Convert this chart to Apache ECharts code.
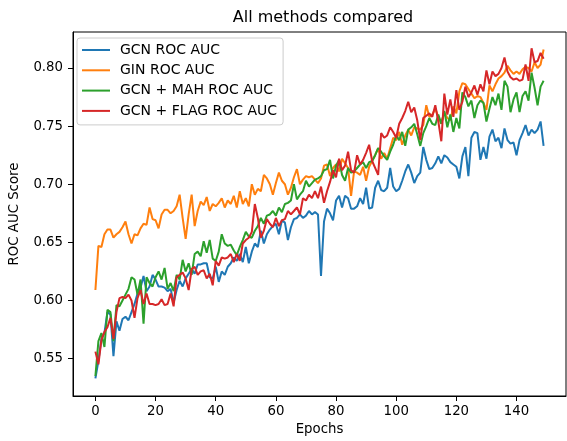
<!DOCTYPE html>
<html>
<head>
<meta charset="utf-8">
<script src="https://cdn.jsdelivr.net/npm/echarts@6/dist/echarts.min.js"></script>
<style>
html,body{margin:0;padding:0;background:#fff;}
#chart{width:567px;height:441px;}
</style>
</head>
<body>
<div id="chart"></div>
<script>
const seriesNames = ["GCN ROC AUC", "GIN ROC AUC", "GCN + MAH ROC AUC", "GCN + FLAG ROC AUC"];
const xTicks = [0, 20, 40, 60, 80, 100, 120, 140];
const yTicks = [0.55, 0.60, 0.65, 0.70, 0.75, 0.80];

const gcn = [
0.533,0.548,0.567,0.572,0.590,0.588,0.552,0.582,0.574,0.584,
0.586,0.583,0.590,0.597,0.606,0.611,0.621,0.608,0.612,0.622,
0.618,0.612,0.612,0.611,0.608,0.610,0.598,0.609,0.617,0.612,
0.619,0.623,0.627,0.623,0.631,0.631,0.632,0.632,0.620,0.619,
0.629,0.616,0.625,0.622,0.629,0.632,0.637,0.634,0.640,0.633,
0.646,0.632,0.642,0.649,0.646,0.660,0.649,0.657,0.661,0.664,
0.666,0.657,0.669,0.667,0.652,0.663,0.670,0.671,0.674,0.671,
0.673,0.677,0.674,0.676,0.674,0.621,0.668,0.679,0.675,0.669,
0.686,0.690,0.680,0.690,0.688,0.679,0.679,0.681,0.688,0.683,
0.697,0.679,0.680,0.697,0.703,0.695,0.694,0.697,0.714,0.698,
0.694,0.696,0.703,0.711,0.717,0.710,0.701,0.707,0.710,0.732,
0.721,0.713,0.714,0.718,0.724,0.718,0.725,0.723,0.719,0.717,
0.715,0.705,0.724,0.732,0.707,0.740,0.745,0.744,0.721,0.732,
0.722,0.741,0.747,0.737,0.740,0.731,0.748,0.738,0.735,0.736,
0.725,0.738,0.744,0.751,0.742,0.747,0.744,0.747,0.754,0.733
];
const gin = [
0.609,0.647,0.646,0.657,0.661,0.661,0.654,0.657,0.659,0.663,
0.668,0.657,0.649,0.657,0.656,0.662,0.666,0.665,0.680,0.670,
0.669,0.662,0.674,0.678,0.678,0.675,0.677,0.681,0.691,0.671,
0.653,0.674,0.691,0.664,0.677,0.685,0.682,0.689,0.677,0.683,
0.681,0.684,0.688,0.680,0.686,0.683,0.690,0.680,0.694,0.683,
0.688,0.681,0.700,0.691,0.696,0.694,0.708,0.705,0.700,0.691,
0.701,0.710,0.703,0.700,0.691,0.697,0.706,0.713,0.700,0.704,
0.707,0.706,0.707,0.704,0.701,0.705,0.716,0.717,0.707,0.714,
0.717,0.711,0.722,0.718,0.714,0.690,0.711,0.710,0.708,0.715,
0.703,0.715,0.720,0.725,0.731,0.722,0.727,0.722,0.731,0.740,
0.738,0.745,0.734,0.742,0.747,0.742,0.749,0.748,0.747,0.751,
0.768,0.758,0.760,0.765,0.758,0.752,0.762,0.757,0.755,0.767,
0.761,0.780,0.787,0.786,0.782,0.778,0.774,0.776,0.775,0.770,
0.764,0.785,0.780,0.786,0.791,0.793,0.796,0.802,0.798,0.795,
0.797,0.795,0.799,0.801,0.800,0.797,0.805,0.800,0.803,0.816
];
const gcnMah = [
0.535,0.565,0.572,0.560,0.592,0.590,0.565,0.596,0.595,0.600,
0.605,0.610,0.620,0.618,0.605,0.618,0.580,0.620,0.615,0.612,
0.620,0.625,0.618,0.628,0.610,0.615,0.608,0.622,0.618,0.635,
0.625,0.632,0.622,0.640,0.642,0.638,0.651,0.641,0.652,0.636,
0.634,0.642,0.657,0.649,0.647,0.648,0.643,0.639,0.646,0.652,
0.659,0.655,0.654,0.660,0.664,0.671,0.666,0.673,0.674,0.677,
0.673,0.680,0.676,0.683,0.684,0.686,0.700,0.687,0.691,0.694,
0.703,0.698,0.701,0.704,0.705,0.707,0.712,0.713,0.721,0.705,
0.716,0.721,0.708,0.703,0.714,0.710,0.711,0.714,0.717,0.719,
0.714,0.719,0.720,0.725,0.731,0.728,0.724,0.721,0.728,0.734,
0.742,0.738,0.745,0.733,0.747,0.749,0.752,0.743,0.733,0.744,
0.750,0.757,0.752,0.751,0.760,0.752,0.763,0.749,0.760,0.745,
0.757,0.748,0.779,0.775,0.767,0.772,0.757,0.768,0.772,0.770,
0.754,0.765,0.775,0.768,0.778,0.764,0.789,0.784,0.762,0.773,
0.779,0.762,0.776,0.780,0.772,0.796,0.783,0.768,0.784,0.789
];
const gcnFlag = [
0.556,0.545,0.566,0.573,0.577,0.585,0.567,0.590,0.602,0.603,
0.602,0.605,0.600,0.585,0.602,0.609,0.597,0.606,0.597,0.597,
0.596,0.597,0.601,0.596,0.597,0.606,0.595,0.620,0.622,0.624,
0.619,0.609,0.627,0.629,0.622,0.625,0.626,0.619,0.623,0.613,
0.634,0.630,0.637,0.636,0.637,0.640,0.633,0.640,0.634,0.649,
0.652,0.654,0.659,0.683,0.671,0.654,0.660,0.670,0.666,0.663,
0.671,0.664,0.669,0.670,0.677,0.674,0.677,0.680,0.674,0.688,
0.686,0.691,0.688,0.694,0.688,0.698,0.684,0.694,0.702,0.712,
0.706,0.722,0.712,0.716,0.728,0.712,0.710,0.725,0.717,0.721,
0.727,0.734,0.720,0.714,0.708,0.744,0.740,0.742,0.749,0.745,
0.740,0.752,0.757,0.763,0.771,0.762,0.766,0.755,0.738,0.757,
0.759,0.761,0.758,0.768,0.754,0.737,0.778,0.760,0.773,0.758,
0.781,0.764,0.771,0.784,0.775,0.779,0.785,0.777,0.786,0.780,
0.798,0.786,0.797,0.793,0.795,0.800,0.809,0.797,0.792,0.790,
0.791,0.789,0.790,0.803,0.789,0.817,0.805,0.806,0.813,0.808
];
const colors = ["#1f77b4", "#ff7f0e", "#2ca02c", "#d62728"];
const allSeries = [gcn, gin, gcnMah, gcnFlag];

const FONT = "DejaVu Sans";
const chart = echarts.init(document.getElementById('chart'), null, {renderer: 'canvas'});

const option = {
  animation: false,
  backgroundColor: '#ffffff',
  textStyle: {fontFamily: FONT},
  title: {
    text: 'All methods compared',
    left: 318, top: 5, textAlign: 'center',
    textStyle: {fontFamily: FONT, fontSize: 16, fontWeight: 'normal', color: '#000'}
  },
  grid: {
    left: 71, top: 32, right: 1, bottom: 42,
    show: true, borderColor: '#000', borderWidth: 1, backgroundColor: 'transparent',
    containLabel: false
  },
  legend: {
    orient: 'vertical',
    left: 77, top: 38,
    data: seriesNames,
    icon: 'rect',
    itemWidth: 28, itemHeight: 2,
    itemGap: 4.3,
    padding: [4, 6, 6, 5],
    backgroundColor: 'rgba(255,255,255,0.8)',
    borderColor: '#cccccc', borderWidth: 1, borderRadius: 3,
    textStyle: {fontFamily: FONT, fontSize: 14, color: '#000', lineHeight: 16, padding: [0, 0, 0, 5]}
  },
  xAxis: {
    type: 'value', min: -7.45, max: 156.45,
    name: 'Epochs', nameLocation: 'middle', nameGap: 27,
    nameTextStyle: {fontFamily: FONT, fontSize: 13.3, color: '#000'},
    axisLine: {show: true, onZero: false, lineStyle: {color: '#000', width: 1}},
    axisTick: {show: true, length: 5, inside: false, customValues: xTicks, lineStyle: {color: '#000'}},
    axisLabel: {customValues: xTicks, margin: 9, fontFamily: FONT, fontSize: 13.3, color: '#000',
      formatter: v => String(v)},
    splitLine: {show: false}
  },
  yAxis: {
    type: 'value', min: 0.5178, max: 0.831,
    name: 'ROC AUC Score', nameLocation: 'middle', nameGap: 52, nameRotate: 90,
    nameTextStyle: {fontFamily: FONT, fontSize: 13.3, color: '#000'},
    axisLine: {show: true, onZero: false, lineStyle: {color: '#000', width: 1}},
    axisTick: {show: true, length: 5, inside: false, customValues: yTicks, lineStyle: {color: '#000'}},
    axisLabel: {customValues: yTicks, margin: 10, fontFamily: FONT, fontSize: 13.3, color: '#000',
      formatter: v => Number(v).toFixed(2)},
    splitLine: {show: false}
  },
  series: seriesNames.map((name, k) => ({
    name: name,
    type: 'line',
    data: allSeries[k].map((v, i) => [i, v]),
    symbol: 'none',
    smooth: false,
    color: colors[k],
    lineStyle: {color: colors[k], width: 2},
    z: 2 + k
  }))
};
chart.setOption(option);
</script>
</body>
</html>
